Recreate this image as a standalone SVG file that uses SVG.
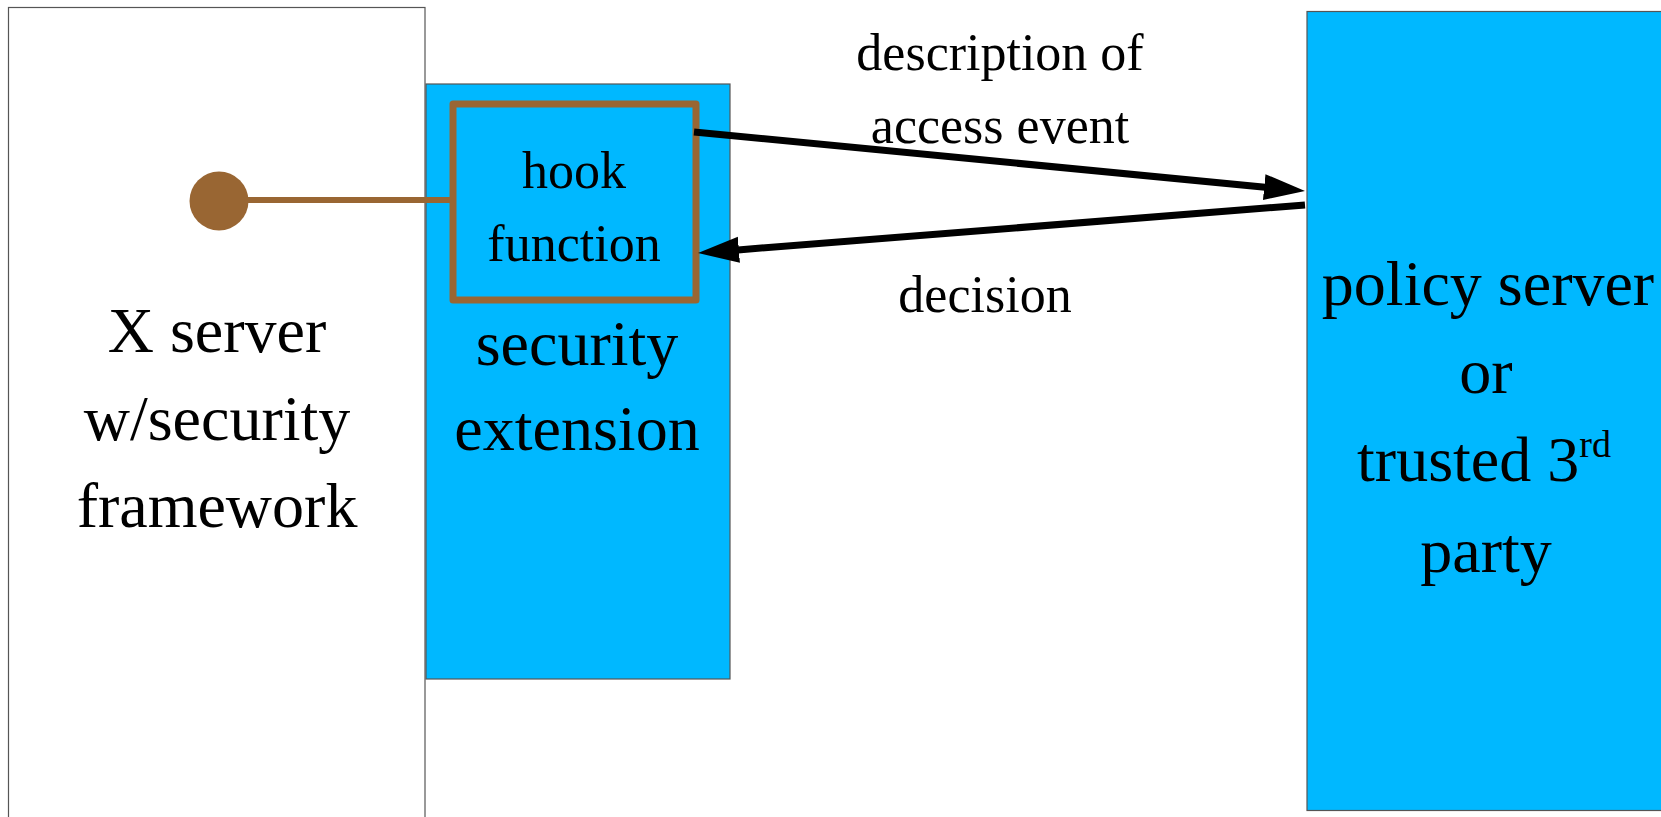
<svg xmlns="http://www.w3.org/2000/svg" width="1661" height="817" viewBox="0 0 1661 817">
  <defs>
    <!-- arrowhead starts where the line stops, so the thick stroke never pokes past the tip -->
    <marker id="arrow" markerUnits="userSpaceOnUse" markerWidth="42" markerHeight="30" refX="1" refY="15" orient="auto" viewBox="0 0 42 30">
      <path d="M0,2 L41,15 L0,28 Z" fill="#000"/>
    </marker>
    <style>
      .box { stroke: #555; stroke-width: 1.2; }
      .blue { fill: #00b8ff; }
      .lbl { font-family: "Liberation Serif", "Times New Roman", serif; fill: #000; text-anchor: middle; }
      .big { font-size: 64px; }
      .mid { font-size: 52px; }
      .link { stroke: #000; stroke-width: 7; fill: none; }
      .hook { stroke: #996633; }
    </style>
  </defs>

  <rect width="1661" height="817" fill="#fff"/>

  <!-- X server frame -->
  <g id="xserver">
    <rect class="box" x="8.5" y="7.5" width="416.5" height="830" fill="#fff"/>
    <text class="lbl big" x="217" y="352">X server</text>
    <text class="lbl big" x="217" y="440">w/security</text>
    <text class="lbl big" x="217" y="527">framework</text>
  </g>

  <!-- security extension -->
  <g id="security-extension">
    <rect class="box blue" x="426" y="84" width="304" height="595"/>
    <text class="lbl big" x="577" y="365">security</text>
    <text class="lbl big" x="577" y="450">extension</text>
  </g>

  <!-- hook function -->
  <g id="hook-function">
    <rect class="hook" x="453" y="104" width="243" height="196" fill="none" stroke-width="7" stroke-linejoin="round"/>
    <text class="lbl mid" x="574" y="188">hook</text>
    <text class="lbl mid" x="574" y="261">function</text>
  </g>

  <!-- hook point in the server -->
  <g id="hook-point">
    <circle cx="219" cy="201" r="29.5" fill="#996633"/>
  </g>

  <!-- policy server -->
  <g id="policy-server">
    <rect class="box blue" x="1307" y="11.5" width="370" height="799"/>
    <text class="lbl big" x="1488" y="305">policy server</text>
    <text class="lbl big" x="1486" y="393">or</text>
    <text class="lbl big" x="1484" y="481">trusted 3<tspan font-size="38" dy="-24">rd</tspan></text>
    <text class="lbl big" x="1486" y="572">party</text>
  </g>

  <!-- connectors -->
  <g id="connectors">
    <line class="hook" x1="240" y1="200" x2="453" y2="200" stroke-width="6"/>
    <line class="link" x1="694" y1="132" x2="1265.2" y2="187.2" marker-end="url(#arrow)"/>
    <line class="link" x1="1305" y1="205" x2="737.9" y2="249.9" marker-end="url(#arrow)"/>
  </g>

  <!-- connector labels -->
  <g id="labels">
    <text class="lbl mid" x="1000" y="70">description of</text>
    <text class="lbl mid" x="1000" y="143">access event</text>
    <text class="lbl mid" x="985" y="312">decision</text>
  </g>
</svg>
